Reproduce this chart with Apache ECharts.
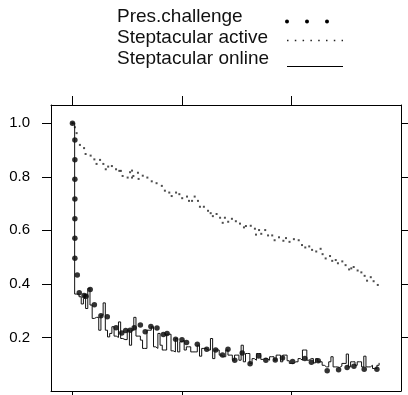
<!DOCTYPE html>
<html>
<head>
<meta charset="utf-8">
<script src="https://cdn.jsdelivr.net/npm/echarts@6/dist/echarts.min.js"></script>
<style>
html,body{margin:0;padding:0;background:#fff;}
#chart{width:408px;height:395px;}
</style>
</head>
<body>
<div id="chart"></div>
<script>
// ---- data ----
var seriesNames = ['Pres.challenge', 'Steptacular active', 'Steptacular online'];
var xTicks = [0, 50, 100];
var yTicks = [0.2, 0.4, 0.6, 0.8, 1.0];

var presDays = [0,1.1,1.1,1.1,1.1,1.1,1.1,1.1,2.2,3.1,5.3,6.2,8.1,10.0,13.0,15.9,19.9,22.5,24.3,26.3,28.2,31.0,33.2,35.8,38.6,41.5,43.2,47.1,50.0,52.1,57.0,61.3,65.4,68.5,71.0,74.1,77.5,81.1,85.0,88.3,92.6,95.9,100.5,106.1,109.1,112.2,116.3,121.5,125.4,128.5,133.2,139.0];
var presValues = [1.0,0.937,0.864,0.791,0.717,0.643,0.570,0.496,0.433,0.367,0.357,0.354,0.379,0.322,0.281,0.277,0.236,0.217,0.226,0.227,0.236,0.246,0.221,0.241,0.235,0.211,0.215,0.193,0.191,0.181,0.175,0.156,0.153,0.134,0.156,0.115,0.142,0.102,0.131,0.115,0.116,0.123,0.110,0.121,0.107,0.113,0.076,0.079,0.088,0.092,0.081,0.081];

var activeDays = [0,1.1,1.9,3.4,5.3,6.0,8.3,10.0,11.0,12.6,14.1,15.2,16.3,18.0,19.9,21.4,22.1,22.9,25.2,26.3,27.2,27.2,27.8,29.9,30.2,32.1,34.2,36.2,38.4,40.8,42.2,44.2,45.3,47.3,48.8,
  50.1,52.3,53.2,54.6,55.8,57.3,58.2,60.0,61.9,63.1,64.1,65.8,67.4,68.6,69.6,71.1,72.8,74.6,76.5,78.3,79.2,81.4,83.3,83.8,85.2,86.2,88.0,89.3,91.2,92.3,94.3,96.3,97.5,99.1,
  101.1,103.3,104.8,106.3,108.1,109.4,111.3,113.3,114.2,115.6,117.6,118.6,120.2,121.2,123.2,124.7,126.3,127.3,128.4,130.2,131.9,133.4,134.5,136.2,137.5,139.4];
var activeValues = [1.0,0.985,0.963,0.919,0.907,0.885,0.879,0.865,0.848,0.863,0.848,0.828,0.838,0.840,0.828,0.822,0.822,0.803,0.797,0.817,0.823,0.797,0.803,0.815,0.792,0.804,0.797,0.783,0.776,0.766,0.748,0.741,0.728,0.741,0.735,
  0.720,0.726,0.710,0.710,0.726,0.710,0.688,0.688,0.673,0.664,0.653,0.661,0.647,0.628,0.647,0.632,0.643,0.634,0.625,0.611,0.616,0.617,0.606,0.584,0.601,0.587,0.601,0.581,0.581,0.563,0.574,0.561,0.571,0.557,
  0.567,0.563,0.545,0.536,0.540,0.527,0.521,0.531,0.511,0.495,0.504,0.486,0.489,0.477,0.484,0.470,0.454,0.458,0.463,0.450,0.443,0.430,0.412,0.425,0.410,0.396];

// one value per day, day = index
var onlineValues = [1.0,0.362,0.362,0.352,0.325,0.346,0.308,0.383,0.321,0.271,
  0.275,0.275,0.227,0.283,0.329,0.227,0.202,0.215,0.240,0.205,
  0.200,0.258,0.196,0.192,0.192,0.227,0.171,0.227,0.275,0.205,
  0.205,0.190,0.159,0.159,0.227,0.227,0.240,0.165,0.159,0.215,
  0.171,0.153,0.153,0.212,0.212,0.150,0.146,0.196,0.146,0.184,
  0.190,0.153,0.165,0.165,0.146,0.146,0.146,0.171,0.130,0.159,
  0.159,0.153,0.153,0.196,0.121,0.153,0.153,0.134,0.128,0.128,
  0.153,0.134,0.134,0.115,0.134,0.134,0.115,0.171,0.109,0.140,
  0.140,0.103,0.121,0.115,0.140,0.140,0.118,0.121,0.121,0.115,
  0.128,0.128,0.115,0.134,0.134,0.109,0.134,0.134,0.113,0.103,
  0.103,0.109,0.109,0.121,0.115,0.153,0.153,0.115,0.121,0.121,
  0.105,0.121,0.109,0.109,0.096,0.090,0.090,0.109,0.128,0.090,
  0.090,0.088,0.093,0.103,0.103,0.138,0.090,0.109,0.109,0.096,
  0.109,0.109,0.090,0.130,0.090,0.090,0.096,0.084,0.084,0.096,
  0.105];

// ---- build ----
function zip(xs, ys){ var out=[]; for(var i=0;i<xs.length;i++){ out.push([xs[i], ys[i]]); } return out; }
var onlineData = onlineValues.map(function(v,i){ return [i, v]; });

var FONT = 'Liberation Sans, Arial, Helvetica, sans-serif';
var chart = echarts.init(document.getElementById('chart'), null, {renderer:'canvas'});

function xAx(pos){
  return {type:'value', position:pos, min:-9.8, max:150,
    axisLine:{show:true, onZero:false, lineStyle:{color:'#000', width:1}},
    axisTick:{show:true, customValues:xTicks, length:9, inside:false, lineStyle:{color:'#000', width:1}},
    axisLabel:{show:false}, splitLine:{show:false}};
}
function yAx(pos, showLabel){
  return {type:'value', position:pos, min:0, max:1.068,
    axisLine:{show:true, onZero:false, lineStyle:{color:'#000', width:1}},
    axisTick:{show:true, customValues:yTicks, length:9, inside:false, lineStyle:{color:'#000', width:1}},
    axisLabel:{show:showLabel, customValues:yTicks, margin:21, fontSize:15, fontFamily:FONT, color:'#000',
      formatter:function(v){ return Number(v).toFixed(1); }},
    splitLine:{show:false}};
}

var legendY = [18.5, 39.5, 60.5];
var legendTextX = 117;
var graphics = [];
seriesNames.forEach(function(n, i){
  graphics.push({type:'text', left:legendTextX, top:legendY[i]-11,
    style:{text:n, fontSize:19, fontFamily:FONT, fill:'#111'}});
});
[287,307,327].forEach(function(cx){
  graphics.push({type:'circle', shape:{cx:cx, cy:21.5, r:2}, style:{fill:'#000'}});
});
graphics.push({type:'line', shape:{x1:287, y1:40.5, x2:343, y2:40.5},
  style:{stroke:'#222', lineWidth:1.5, lineDash:[1.5, 6.3]}});
graphics.push({type:'line', shape:{x1:287, y1:66.5, x2:343, y2:66.5},
  style:{stroke:'#000', lineWidth:1}});

chart.setOption({
  animation:false,
  backgroundColor:'#fff',
  grid:{left:51, top:105, right:7, bottom:4, containLabel:false},
  xAxis:[xAx('bottom'), xAx('top')],
  yAxis:[yAx('left', true), yAx('right', false)],
  graphic:graphics,
  series:[
    {name:seriesNames[2], type:'line', step:'end', data:onlineData, showSymbol:false, symbol:'none',
      xAxisIndex:0, yAxisIndex:0,
      lineStyle:{color:'#111', width:1}},
    {name:seriesNames[1], type:'scatter', data:zip(activeDays, activeValues), symbol:'rect', symbolSize:2,
      xAxisIndex:0, yAxisIndex:0, itemStyle:{color:'#222'}},
    {name:seriesNames[0], type:'scatter', data:zip(presDays, presValues), symbol:'circle', symbolSize:5.5,
      xAxisIndex:0, yAxisIndex:0, itemStyle:{color:'#000'}}
  ]
});
</script>
</body>
</html>
